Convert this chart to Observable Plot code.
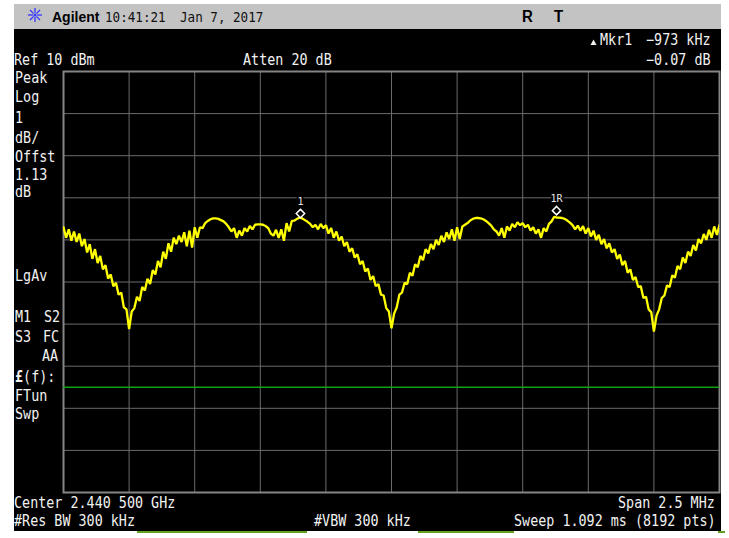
<!DOCTYPE html>
<html><head><meta charset="utf-8">
<script src="https://cdn.jsdelivr.net/npm/d3@7"></script>
<script src="https://cdn.jsdelivr.net/npm/@observablehq/plot@0.6"></script>
<style>
html,body{margin:0;padding:0;background:#fff;}
#wrap{position:relative;width:729px;height:538px;overflow:hidden;background:#fff;}
.abs{position:absolute;}
</style></head><body>
<div id="wrap">
  <div class="abs" style="left:14px;top:4px;width:707px;height:25px;background:#c3c3c3"></div>
  <div class="abs" style="left:14px;top:29px;width:707px;height:502px;background:#000"></div>
  <div class="abs" style="left:137px;top:531px;width:170px;height:2px;background:#66a020"></div>
  <div class="abs" style="left:418px;top:531px;width:96px;height:2px;background:#66a020"></div>
  <div class="abs" style="left:718px;top:531px;width:7px;height:2px;background:#66a020"></div>
</div>
<script>
// ---- data ----
const freqGrid = [2439.25, 2439.5, 2439.75, 2440, 2440.25, 2440.5, 2440.75, 2441, 2441.25, 2441.5, 2441.75]; // MHz
const levelGrid = [10, 9, 8, 7, 6, 5, 4, 3, 2, 1, 0]; // dBm, 1 dB/div, Ref 10 dBm
const sweepStart = 2439.25; // MHz
const sweepStep = 0.01;     // MHz between listed trace points
const traceDbm = [
  6.30, 6.05, 6.25, 5.98, 6.20, 5.95, 6.15, 5.85, 6.02, 5.70,
  5.90, 5.55, 5.78, 5.45, 5.62, 5.30, 5.40, 5.08, 5.18, 4.90,
  4.98, 4.70, 4.75, 4.40, 4.35, 3.88, 4.30, 4.38, 4.65, 4.55,
  4.88, 4.80, 5.08, 4.95, 5.28, 5.18, 5.50, 5.35, 5.72, 5.55,
  5.92, 5.72, 6.05, 5.90, 6.10, 5.95, 6.18, 5.85, 6.22, 5.82,
  6.30, 6.05, 6.30, 6.28, 6.40, 6.45, 6.49, 6.51, 6.51, 6.50,
  6.47, 6.44, 6.38, 6.30, 6.20, 6.28, 6.05, 6.22, 6.10, 6.28,
  6.20, 6.33, 6.25, 6.36, 6.37, 6.37, 6.36, 6.33, 6.28, 6.15,
  6.10, 6.24, 6.05, 6.25, 5.98, 6.40, 6.20, 6.45, 6.46, 6.50,
  6.53, 6.51, 6.47, 6.43, 6.38, 6.30, 6.36, 6.25, 6.38, 6.28,
  6.35, 6.15, 6.28, 6.05, 6.20, 5.98, 6.08, 5.85, 5.95, 5.72,
  5.80, 5.58, 5.66, 5.42, 5.50, 5.25, 5.32, 5.05, 5.14, 4.90,
  4.95, 4.70, 4.68, 4.38, 4.30, 3.90, 4.25, 4.40, 4.70, 4.75,
  4.98, 4.95, 5.22, 5.15, 5.42, 5.35, 5.62, 5.52, 5.78, 5.68,
  5.90, 5.78, 6.00, 5.88, 6.10, 5.95, 6.18, 6.02, 6.25, 5.98,
  6.30, 6.02, 6.32, 6.36, 6.40, 6.46, 6.50, 6.52, 6.52, 6.51,
  6.49, 6.45, 6.40, 6.34, 6.25, 6.20, 6.10, 6.28, 6.05, 6.32,
  6.22, 6.38, 6.30, 6.42, 6.35, 6.40, 6.30, 6.36, 6.22, 6.30,
  6.15, 6.25, 6.05, 6.28, 6.20, 6.38, 6.44, 6.55, 6.53, 6.53,
  6.52, 6.50, 6.46, 6.41, 6.35, 6.25, 6.34, 6.22, 6.33, 6.15,
  6.28, 6.08, 6.22, 6.00, 6.12, 5.90, 6.02, 5.80, 5.92, 5.70,
  5.78, 5.55, 5.65, 5.40, 5.50, 5.22, 5.30, 5.05, 5.12, 4.88,
  4.90, 4.62, 4.65, 4.35, 4.28, 3.82, 4.20, 4.35, 4.62, 4.68,
  4.92, 4.88, 5.16, 5.10, 5.38, 5.30, 5.58, 5.45, 5.72, 5.62,
  5.88, 5.75, 6.02, 5.92, 6.14, 6.00, 6.24, 6.05, 6.32, 6.12, 6.35
];
const markerFreqs = [2440.153, 2441.129];
const markerLevels = [6.53, 6.60];
const markerLabels = ["1", "1R"];
const displayLine = [2.5];

// ---- tables ----
const trace = traceDbm.map((v, i) => ({freq: sweepStart + i * sweepStep, level: v}));
const markers = markerFreqs.map((f, i) => ({freq: f, level: markerLevels[i], label: markerLabels[i]}));

const chart = Plot.plot({
  width: 729, height: 538,
  marginLeft: 63, marginRight: 10, marginTop: 71, marginBottom: 46,
  x: {domain: [freqGrid[0], freqGrid[freqGrid.length - 1]], axis: null},
  y: {domain: [levelGrid[levelGrid.length - 1], levelGrid[0]], axis: null},
  style: {background: "transparent", position: "absolute", left: "0px", top: "0px"},
  marks: [
    Plot.ruleX(freqGrid, {stroke: "#6b6b6b", strokeWidth: 1}),
    Plot.ruleY(levelGrid, {stroke: "#6b6b6b", strokeWidth: 1}),
    Plot.frame({stroke: "#858585", strokeWidth: 2}),
    Plot.ruleY(displayLine, {stroke: "#12a012", strokeWidth: 1.5}),
    Plot.line(trace, {x: "freq", y: "level", stroke: "#ffff00", strokeWidth: 2.3, strokeLinejoin: "miter", clip: true}),
    Plot.text(markers, {x: "freq", y: "level", text: "label", dy: -16, fill: "#e6e6e6", stroke: "black", strokeWidth: 4, paintOrder: "stroke", fontSize: 10, fontFamily: "DejaVu Sans Mono"}),
    Plot.dot(markers, {x: "freq", y: "level", symbol: "diamond2", r: 3.8, dy: -4, stroke: "white", fill: "black", strokeWidth: 1.5})
  ]
});
const wrap = document.getElementById("wrap");
wrap.appendChild(chart);

// ---- text overlay ----
const ov = d3.create("svg").attr("width", 729).attr("height", 538)
  .style("position", "absolute").style("left", "0px").style("top", "0px");
const MONO = "'DejaVu Sans Mono', monospace";
function txt(x, y, s, o = {}) {
  const t = ov.append("text")
    .attr("transform", `translate(${x},${y}) scale(1,${o.sy ?? 1.12})`)
    .attr("font-family", o.ff ?? MONO)
    .attr("font-size", o.fs ?? 13.4)
    .attr("font-weight", o.fw ?? "normal")
    .attr("fill", o.fill ?? "#f2f2f2")
    .attr("text-anchor", o.anchor ?? "start")
    .text(s);
  return t;
}
// header
const star = ov.append("g").attr("transform", "translate(35,15)").attr("stroke", "#3434ff").attr("stroke-width", 1.3);
for (let k = 0; k < 8; k++) {
  const a = k * Math.PI / 4;
  star.append("line").attr("x1", 2 * Math.cos(a)).attr("y1", 2 * Math.sin(a)).attr("x2", 7 * Math.cos(a)).attr("y2", 7 * Math.sin(a));
}
star.append("circle").attr("r", 1.5).attr("fill", "#3434ff").attr("stroke", "none");
txt(52, 22, "Agilent", {ff: "'Liberation Sans', Arial, sans-serif", fw: "bold", fs: 14, sy: 1.1, fill: "#000"});
txt(105, 22, "10:41:21", {fs: 12.6, sy: 1.18, fill: "#111"});
txt(180, 22, "Jan 7, 2017", {fs: 12.6, sy: 1.18, fill: "#111"});
txt(522, 22, "R", {ff: "'Liberation Sans', Arial, sans-serif", fw: "bold", fs: 15, sy: 1.05, fill: "#000"});
txt(554, 22, "T", {ff: "'Liberation Sans', Arial, sans-serif", fw: "bold", fs: 15, sy: 1.05, fill: "#000"});
// top annotations
ov.append("polygon").attr("points", "590.5,45 596.5,45 593.5,39.5").attr("fill", "#f2f2f2");
txt(600, 45, "Mkr1");
txt(646, 45, "\u2212973 kHz");
txt(14, 65, "Ref 10 dBm");
txt(243, 65, "Atten 20 dB");
txt(646, 65, "\u22120.07 dB");
// left annotations
[["Peak", 15, 83], ["Log", 15, 102], ["1", 15, 123], ["dB/", 15, 143], ["Offst", 15, 162],
 ["1.13", 15, 180], ["dB", 15, 197], ["LgAv", 15, 281], ["M1", 15, 321.5], ["S2", 44, 321.5],
 ["S3", 15, 341.5], ["FC", 43, 341.5], ["AA", 42, 361], ["FTun", 15, 401], ["Swp", 15, 418.5]]
  .forEach(([s, x, y]) => txt(x, y, s));
const ff = txt(15, 381.5, "");
ff.append("tspan").attr("font-weight", "bold").text("\u00a3");
ff.append("tspan").text("(f):");
// bottom annotations
txt(14, 508, "Center 2.440 500 GHz");
txt(618, 508, "Span 2.5 MHz");
txt(14, 526, "#Res BW 300 kHz");
txt(314, 526, "#VBW 300 kHz");
txt(514, 526, "Sweep 1.092 ms (8192 pts)");
wrap.appendChild(ov.node());
</script>
</body></html>
